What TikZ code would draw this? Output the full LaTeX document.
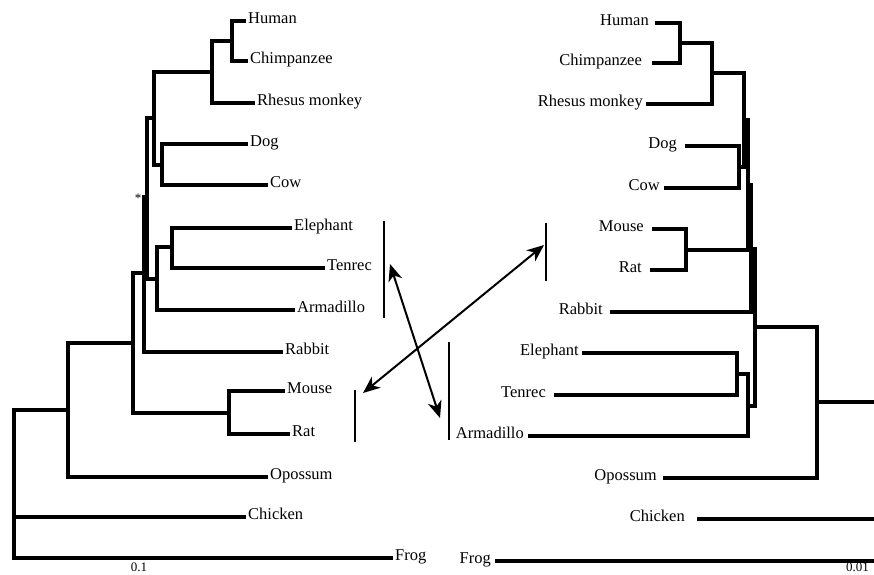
\documentclass[tikz,border=0pt]{standalone}
\usepackage{fontspec}
\setmainfont{Liberation Serif}
\usetikzlibrary{arrows.meta}
\begin{document}
\begin{tikzpicture}[x=1pt,y=-1pt,
  br/.style={line width=4pt, line join=miter},
  lab/.style={font=\fontsize{16.5}{18}\selectfont, inner sep=0pt},
  llab/.style={lab, anchor=mid west, xshift=2pt},
  rlab/.style={lab, anchor=mid east},
  barline/.style={line width=2pt},
  dblarrow/.style={line width=2pt, {Stealth[length=17pt,width=14pt,inset=5pt]}-{Stealth[length=17pt,width=14pt,inset=5pt]}},
  scalelab/.style={font=\fontsize{13}{14}\selectfont, inner sep=0pt}
]
\useasboundingbox (0,0) rectangle (874,574);

% ---------------- Left tree ----------------
\coordinate (LHu) at (246,21);
\coordinate (LCh) at (248,61);
\coordinate (LRh) at (255,103);
\coordinate (LDo) at (248,144);
\coordinate (LCo) at (268,185);
\coordinate (LEl) at (292,228);
\coordinate (LTe) at (325,268);
\coordinate (LAr) at (295,310);
\coordinate (LRa) at (283,352);
\coordinate (LMo) at (285,391);
\coordinate (LRt) at (290,434);
\coordinate (LOp) at (268,477);
\coordinate (LCk) at (246,517);
\coordinate (LFr) at (393,558);

\coordinate (LnHC) at (232,41);
\coordinate (LnP) at (212,72);
\coordinate (LnDC) at (162,165);
\coordinate (LnB) at (154,118);
\coordinate (LnET) at (172,247);
\coordinate (LnAX) at (157,279);
\coordinate (Ln147) at (147,197);
\coordinate (Ln144) at (144,273);
\coordinate (LnMR) at (229,413);
\coordinate (Ln133) at (133,343);
\coordinate (Ln68) at (68,410);
\coordinate (LrC) at (14,517);
\coordinate (LrF) at (14,558);

\draw[br] (LHu) -| (LnHC) |- (LCh);
\draw[br] (LnHC) -| (LnP) |- (LRh);
\draw[br] (LDo) -| (LnDC) |- (LCo);
\draw[br] (LnP) -| (LnB) |- (LnDC);
\draw[br] (LEl) -| (LnET) |- (LTe);
\draw[br] (LnET) -| (LnAX) |- (LAr);
\draw[br] (LnB) -| (Ln147) |- (LnAX);
\draw[br] (Ln147) -| (Ln144) |- (LRa);
\draw[br] (LMo) -| (LnMR) |- (LRt);
\draw[br] (Ln144) -| (Ln133) |- (LnMR);
\draw[br] (Ln133) -| (Ln68) |- (LOp);
\draw[br] (Ln68) -| (LrF) -- (LFr);
\draw[br] (LrC) -- (LCk);

\node[llab] (tLHu) at (LHu) {Human};
\node[llab] (tLCh) at (LCh) {Chimpanzee};
\node[llab] (tLRh) at (LRh) {Rhesus monkey};
\node[llab] (tLDo) at (LDo) {Dog};
\node[llab] (tLCo) at (LCo) {Cow};
\node[llab] (tLEl) at (LEl) {Elephant};
\node[llab] (tLTe) at (LTe) {Tenrec};
\node[llab] (tLAr) at (LAr) {Armadillo};
\node[llab] (tLRa) at (LRa) {Rabbit};
\node[llab] (tLMo) at (LMo) {Mouse};
\node[llab] (tLRt) at (LRt) {Rat};
\node[llab] (tLOp) at (LOp) {Opossum};
\node[llab] (tLCk) at (LCk) {Chicken};
\node[llab] (tLFr) at (LFr) {Frog};

\node[font=\fontsize{13}{13}\selectfont, inner sep=0pt] (ast) at (138,198) {*};
\node[scalelab] (sc1) at (139,567) {0.1};

% ---------------- Right tree ----------------
\coordinate (RHu) at (655,23);
\coordinate (RCh) at (652,63);
\coordinate (RRh) at (646,104);
\coordinate (RDo) at (685,146);
\coordinate (RCo) at (664,188);
\coordinate (RMo) at (652,229);
\coordinate (RRt) at (650,270);
\coordinate (RRb) at (610,312);
\coordinate (REl) at (582,353);
\coordinate (RTe) at (554,395);
\coordinate (RAr) at (528,436);
\coordinate (ROp) at (663,478);
\coordinate (RCk) at (697,519);
\coordinate (RFr) at (495,561);

\coordinate (RnHC) at (680,43);
\coordinate (RnP) at (712,73);
\coordinate (RnDC) at (739,167);
\coordinate (RnB) at (744,120);
\coordinate (RnMR) at (686,250);
\coordinate (Rn748) at (748,185);
\coordinate (Rn751) at (751,249);
\coordinate (RnET) at (737,374);
\coordinate (RnAX) at (748,406);
\coordinate (Rn755) at (755,327);
\coordinate (Rn817) at (817,402);
\coordinate (RrE) at (874,402);
\coordinate (RCkE) at (874,519);
\coordinate (RFrE) at (874,561);

\draw[br] (RHu) -| (RnHC) |- (RCh);
\draw[br] (RnHC) -| (RnP) |- (RRh);
\draw[br] (RDo) -| (RnDC) |- (RCo);
\draw[br] (RnP) -| (RnB) |- (RnDC);
\draw[br] (RMo) -| (RnMR) |- (RRt);
\draw[br] (RnB) -| (Rn748) |- (RnMR);
\draw[br] (Rn748) -| (Rn751) |- (RRb);
\draw[br] (REl) -| (RnET) |- (RTe);
\draw[br] (RnET) -| (RnAX) |- (RAr);
\draw[br] (Rn751) -| (Rn755) |- (RnAX);
\draw[br] (Rn755) -| (Rn817) |- (ROp);
\draw[br] (Rn817) -- (RrE);
\draw[br] (RCk) -- (RCkE);
\draw[br] (RFr) -- (RFrE);

\node[rlab] (tRHu) at (649,23) {Human};
\node[rlab] (tRCh) at (642,63) {Chimpanzee};
\node[rlab] (tRRh) at (643,104) {Rhesus monkey};
\node[rlab] (tRDo) at (677,146) {Dog};
\node[rlab] (tRCo) at (660,188) {Cow};
\node[rlab] (tRMo) at (644,229) {Mouse};
\node[rlab] (tRRt) at (642,270) {Rat};
\node[rlab] (tRRb) at (603,312) {Rabbit};
\node[rlab] (tREl) at (579,353) {Elephant};
\node[rlab] (tRTe) at (546,395) {Tenrec};
\node[rlab] (tRAr) at (524,436) {Armadillo};
\node[rlab] (tROp) at (657,478) {Opossum};
\node[rlab] (tRCk) at (685,519) {Chicken};
\node[rlab] (tRFr) at (491,561) {Frog};

\node[scalelab, anchor=south east] (sc2) at (869,572) {0.01};

% ---------------- Bars and arrows ----------------
\coordinate (b1t) at (384,221); \coordinate (b1b) at (384,318);
\coordinate (b2t) at (546,223); \coordinate (b2b) at (546,281);
\coordinate (b3t) at (355,390); \coordinate (b3b) at (355,442);
\coordinate (b4t) at (449,342); \coordinate (b4b) at (449,440);
\draw[barline] (b1t) -- (b1b);
\draw[barline] (b2t) -- (b2b);
\draw[barline] (b3t) -- (b3b);
\draw[barline] (b4t) -- (b4b);

\coordinate (a1s) at (390,264); \coordinate (a1e) at (440,418);
\coordinate (a2s) at (363,393); \coordinate (a2e) at (544,245);
\draw[dblarrow] (a1s) -- (a1e);
\draw[dblarrow] (a2s) -- (a2e);
\end{tikzpicture}
\end{document}
